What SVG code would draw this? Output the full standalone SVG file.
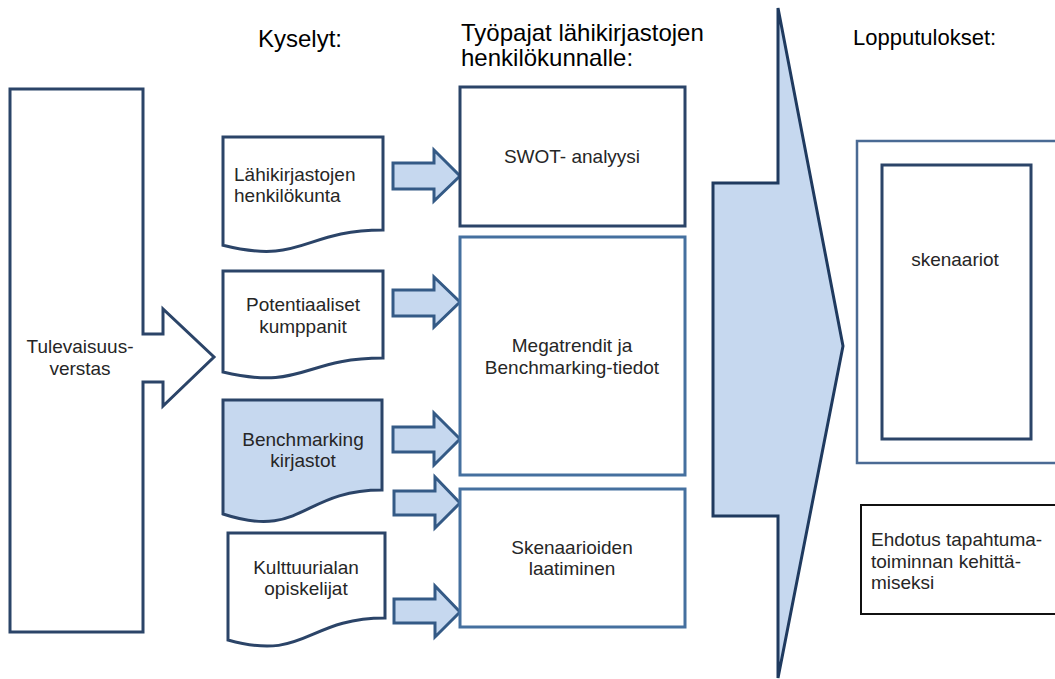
<svg xmlns="http://www.w3.org/2000/svg" width="1055" height="679" viewBox="0 0 1055 679">
<style>
text{font-family:"Liberation Sans",Arial,sans-serif;fill:#262626}
.t{font-size:19px}
.h{font-size:24px;fill:#000}
.c{text-anchor:middle}
.dark{fill:#fff;stroke:#2B4468;stroke-width:3;stroke-linejoin:miter}
.mid{fill:#fff;stroke:#45709F;stroke-width:3}
.doc{fill:#fff;stroke:#2B4468;stroke-width:3}
.docf{fill:#C6D8EF;stroke:#2B4468;stroke-width:3}
.arr{fill:#C6D8EF;stroke:#345A86;stroke-width:3;stroke-linejoin:miter}
.big{fill:#C6D8EF;stroke:#1F3A5F;stroke-width:3;stroke-linejoin:miter}
</style>
<rect width="1055" height="679" fill="#fff"/>
<g id="headers">
<text class="h" x="258" y="47">Kyselyt:</text>
<text class="h" x="461" y="41">Työpajat lähikirjastojen</text>
<text class="h" x="461" y="66">henkilökunnalle:</text>
<text x="853" y="45" style="font-size:22px;fill:#000">Lopputulokset:</text>
</g>
<g id="tulevaisuusverstas">
<path class="dark" d="M10,89 H143 V334 H163 V309 L214,357 L163,406 V382 H143 V632 H10 Z"/>
<text class="t c" x="80" y="353">Tulevaisuus-</text>
<text class="t c" x="80" y="375">verstas</text>
</g>
<g id="doc-lahikirjastojen">
<path class="doc" d="M223,137 H383 V230 C303,230 303,265.4 223,245.3 Z"/>
<text class="t" x="234" y="181">Lähikirjastojen</text>
<text class="t" x="234" y="202">henkilökunta</text>
</g>
<g id="doc-potentiaaliset">
<path class="doc" d="M223,271 H383 V358 C303,358 303,391 223,372 Z"/>
<text class="t c" x="303" y="311">Potentiaaliset</text>
<text class="t c" x="303" y="333">kumppanit</text>
</g>
<g id="doc-benchmarking">
<path class="docf" d="M223,400 H382 V490 C302,490 302,540 223,514 Z"/>
<text class="t c" x="303" y="446">Benchmarking</text>
<text class="t c" x="303" y="467">kirjastot</text>
</g>
<g id="doc-kulttuurialan">
<path class="doc" d="M228,533 H385 V618 C306,618 306,662 228,640 Z"/>
<text class="t c" x="306" y="574">Kulttuurialan</text>
<text class="t c" x="306" y="595">opiskelijat</text>
</g>
<g id="connectors">
<path class="arr" d="M393,163 H434 V150 L460,176 L434,201 V189 H393 Z"/>
<path class="arr" d="M393,290 H434 V277 L460,302 L434,327 V316 H393 Z"/>
<path class="arr" d="M393,427 H434 V413 L460,439 L434,465 V452 H393 Z"/>
<path class="arr" d="M394,491 H435 V477 L460,503 L435,528 V515 H394 Z"/>
<path class="arr" d="M394,599 H435 V586 L460,612 L435,637 V623 H394 Z"/>
<path class="big" d="M713,183 H778 V8 L843,346 L778,678 V516 H713 Z"/>
</g>
<g id="swot">
<rect class="dark" x="460" y="87" width="225" height="139"/>
<text class="t c" x="572" y="163">SWOT- analyysi</text>
</g>
<g id="megatrendit">
<rect class="mid" x="460" y="237" width="225" height="238"/>
<text class="t c" x="572" y="352">Megatrendit ja</text>
<text class="t c" x="572" y="374">Benchmarking-tiedot</text>
</g>
<g id="skenaarioiden">
<rect class="mid" x="460" y="489" width="225" height="138"/>
<text class="t c" x="572" y="554">Skenaarioiden</text>
<text class="t c" x="572" y="575">laatiminen</text>
</g>
<g id="skenaariot">
<rect x="857" y="141" width="200" height="322" fill="#fff" stroke="#4A6A94" stroke-width="2.5"/>
<rect class="dark" x="882" y="165" width="149" height="274"/>
<text class="t c" x="955" y="266">skenaariot</text>
</g>
<g id="ehdotus">
<rect x="861" y="505" width="200" height="109" fill="#fff" stroke="#111" stroke-width="2"/>
<text class="t" x="871" y="546">Ehdotus tapahtuma-</text>
<text class="t" x="871" y="568">toiminnan kehittä-</text>
<text class="t" x="871" y="589">miseksi</text>
</g>
</svg>
